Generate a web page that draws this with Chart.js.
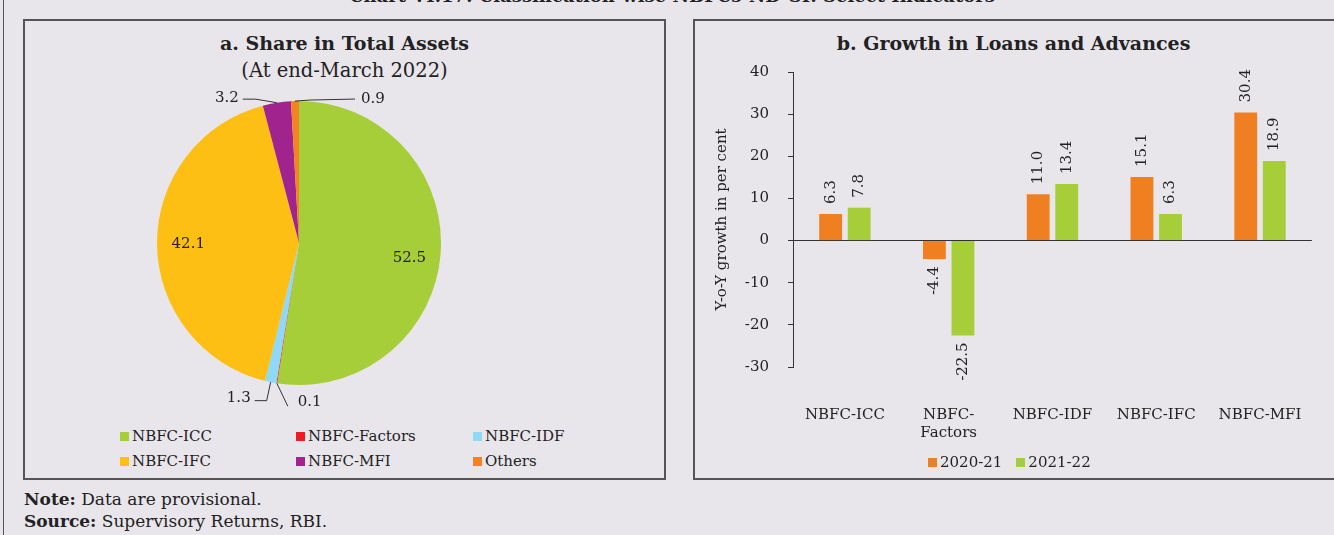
<!DOCTYPE html>
<html>
<head>
<meta charset="utf-8">
<script src="https://cdn.jsdelivr.net/npm/chart.js@4.4.0/dist/chart.umd.min.js"></script>
<style>
  body { margin: 0; width: 1334px; height: 535px; background: #e8e6eb; overflow: hidden; position: relative;
         font-family: "DejaVu Serif", serif; color: #222; }
  #frame { position: absolute; left: 3px; top: -2px; width: 1400px; height: 600px; border-left: 1.5px solid #555; }
  #heading { position: absolute; left: 0; width: 1344px; top: -13px; text-align: center; font-weight: bold; font-size: 18px; line-height: 18px; }
  .panel { position: absolute; top: 19px; height: 461px; box-sizing: border-box; border: 2px solid #555; }
  #panelA { left: 23px; width: 643px; }
  #panelB { left: 693px; width: 700px; }
  .ptitle { position: absolute; text-align: center; font-size: 19px; line-height: 27px; }
  .ptitle b { font-weight: bold; }
  .ptitle span { font-size: 19.5px; }
  canvas { position: absolute; }
  .legend { position: absolute; font-size: 15px; line-height: 18px; }
  .legend span.sw { display: inline-block; width: 9px; height: 9px; margin-right: 3px; vertical-align: 0px; }
  #pieLegend { left: 120px; top: 427px; display: grid; grid-template-columns: 176px 177px 150px; row-gap: 7px; }
  #barLegend { left: 928px; top: 453px; display: flex; gap: 14px; }
  #notes { position: absolute; left: 24px; top: 488px; font-size: 17px; line-height: 22px; }
</style>
</head>
<body>
<div id="frame"></div>
<div id="heading">Chart VI.17: Classification-wise NBFCs-ND-SI: Select Indicators</div>
<div class="panel" id="panelA"></div>
<div class="panel" id="panelB"></div>
<div class="ptitle" style="left:23px;width:643px;top:30px;"><b>a. Share in Total Assets</b><br><span>(At end-March 2022)</span></div>
<div class="ptitle" style="left:693px;width:641px;top:30px;"><b>b. Growth in Loans and Advances</b></div>
<canvas id="pieChart" width="400" height="330" style="left:100px;top:80px;"></canvas>
<canvas id="barChart" width="641" height="418" style="left:693px;top:44px;"></canvas>
<div class="legend" id="pieLegend"></div>
<div class="legend" id="barLegend"></div>
<div id="notes"><b>Note:</b> Data are provisional.<br><b>Source:</b> Supervisory Returns, RBI.</div>

<script>
// share in total assets, end-March 2022 (per cent)
const shareLabels = ['NBFC-ICC', 'NBFC-Factors', 'NBFC-IDF', 'NBFC-IFC', 'NBFC-MFI', 'Others'];
const shareValues = [52.5, 0.1, 1.3, 42.1, 3.2, 0.9];
const shareColors = ['#a6ce39', '#ed1c24', '#8fd8f8', '#fdbf13', '#a0238e', '#f58220'];

// y-o-y growth in loans and advances (per cent)
const growthCategories = [['NBFC-ICC'], ['NBFC-', 'Factors'], ['NBFC-IDF'], ['NBFC-IFC'], ['NBFC-MFI']];
const growth2021 = [6.3, -4.4, 11.0, 15.1, 30.4];
const growth2022 = [7.8, -22.5, 13.4, 6.3, 18.9];
const yearLabels = ['2020-21', '2021-22'];
const yearColors = ['#f07f22', '#a6ce39'];

const serif = '"DejaVu Serif", serif';
const ink = '#222';

// where each pie label goes: inside the slice, or outside with a leader line
// (offsets in px from the slice's outer edge point)
const pieLabelPlacement = [
  { inside: 0.78, shift: [0, 7] },
  { line: [[11, 23]], text: [21, 19], align: 'left' },
  { line: [[-4, 18.5], [-16, 18.5]], text: [-20, 16], align: 'right' },
  { inside: 0.78, shift: [0, 0] },
  { line: [[-21, -3.6], [-34, -3.6]], text: [-38, -5], align: 'right' },
  { line: [[15, -1], [60, -2]], text: [66, -2], align: 'left' }
];

const pieLabels = {
  id: 'pieLabels',
  afterDatasetsDraw(chart) {
    const ctx = chart.ctx;
    const meta = chart.getDatasetMeta(0);
    ctx.save();
    ctx.font = '15px ' + serif;
    ctx.fillStyle = ink;
    ctx.strokeStyle = '#333';
    ctx.lineWidth = 1;
    ctx.textBaseline = 'middle';
    meta.data.forEach((arc, i) => {
      const p = arc.getProps(['x', 'y', 'startAngle', 'endAngle', 'outerRadius'], true);
      const mid = (p.startAngle + p.endAngle) / 2;
      const place = pieLabelPlacement[i];
      const text = shareValues[i].toFixed(1);
      if (place.inside) {
        const r = p.outerRadius * place.inside;
        ctx.textAlign = 'center';
        ctx.fillText(text, p.x + Math.cos(mid) * r + place.shift[0], p.y + Math.sin(mid) * r + place.shift[1]);
        return;
      }
      const ex = p.x + Math.cos(mid) * p.outerRadius;
      const ey = p.y + Math.sin(mid) * p.outerRadius;
      ctx.beginPath();
      ctx.moveTo(ex, ey);
      place.line.forEach(pt => ctx.lineTo(ex + pt[0], ey + pt[1]));
      ctx.stroke();
      ctx.textAlign = place.align;
      ctx.fillText(text, ex + place.text[0], ey + place.text[1]);
    });
    ctx.restore();
  }
};

new Chart(document.getElementById('pieChart'), {
  type: 'pie',
  data: {
    labels: shareLabels,
    datasets: [{ data: shareValues, backgroundColor: shareColors, borderWidth: 0 }]
  },
  options: {
    responsive: false,
    animation: false,
    layout: { padding: { left: 57, right: 59, top: 21, bottom: 25 } },
    plugins: { legend: { display: false }, tooltip: { enabled: false } }
  },
  plugins: [pieLabels]
});

// rotated value labels above positive bars / below negative bars
const barLabels = {
  id: 'barLabels',
  afterDatasetsDraw(chart) {
    const ctx = chart.ctx;
    ctx.save();
    ctx.font = '15px ' + serif;
    ctx.fillStyle = ink;
    ctx.textBaseline = 'middle';
    chart.data.datasets.forEach((ds, di) => {
      chart.getDatasetMeta(di).data.forEach((bar, i) => {
        const v = ds.data[i];
        ctx.save();
        if (v >= 0) {
          ctx.translate(bar.x, bar.y - 10);
          ctx.rotate(-Math.PI / 2);
          ctx.textAlign = 'left';
        } else {
          ctx.translate(bar.x, bar.y + 7);
          ctx.rotate(-Math.PI / 2);
          ctx.textAlign = 'right';
        }
        ctx.fillText(v.toFixed(1), 0, 0);
        ctx.restore();
      });
    });
    ctx.restore();
  }
};

new Chart(document.getElementById('barChart'), {
  type: 'bar',
  data: {
    labels: growthCategories,
    datasets: [
      { label: yearLabels[0], data: growth2021, backgroundColor: yearColors[0], borderWidth: 0,
        categoryPercentage: 0.55, barPercentage: 0.8 },
      { label: yearLabels[1], data: growth2022, backgroundColor: yearColors[1], borderWidth: 0,
        categoryPercentage: 0.55, barPercentage: 0.8 }
    ]
  },
  options: {
    responsive: false,
    animation: false,
    layout: { padding: { left: 0, right: 16, top: 11, bottom: 0 } },
    scales: {
      x: {
        grid: { display: false },
        border: { display: false },
        ticks: { color: ink, font: { family: serif, size: 15 }, padding: 31, maxRotation: 0 },
        afterFit(scale) { scale.height = 95; }
      },
      y: {
        min: -30,
        max: 40,
        ticks: { stepSize: 10, color: ink, font: { family: serif, size: 15 }, padding: 19 },
        grid: {
          color: c => (c.tick && c.tick.value === 0 ? '#333' : 'rgba(0,0,0,0)'),
          tickColor: '#333',
          tickLength: 5,
          lineWidth: 1
        },
        border: { display: true, color: '#333', width: 1 },
        title: { display: true, text: 'Y-o-Y growth in per cent', color: ink,
                 font: { family: serif, size: 15 }, padding: { top: 20, bottom: 0 } },
        afterFit(scale) { scale.width = 100; }
      }
    },
    plugins: { legend: { display: false }, tooltip: { enabled: false } }
  },
  plugins: [barLabels]
});

// legends built from the same label/colour arrays
const pieLegend = document.getElementById('pieLegend');
shareLabels.forEach((name, i) => {
  const item = document.createElement('div');
  item.innerHTML = '<span class="sw" style="background:' + shareColors[i] + '"></span>' + name;
  pieLegend.appendChild(item);
});
const barLegend = document.getElementById('barLegend');
yearLabels.forEach((name, i) => {
  const item = document.createElement('div');
  item.innerHTML = '<span class="sw" style="background:' + yearColors[i] + '"></span>' + name;
  barLegend.appendChild(item);
});
</script>
</body>
</html>
